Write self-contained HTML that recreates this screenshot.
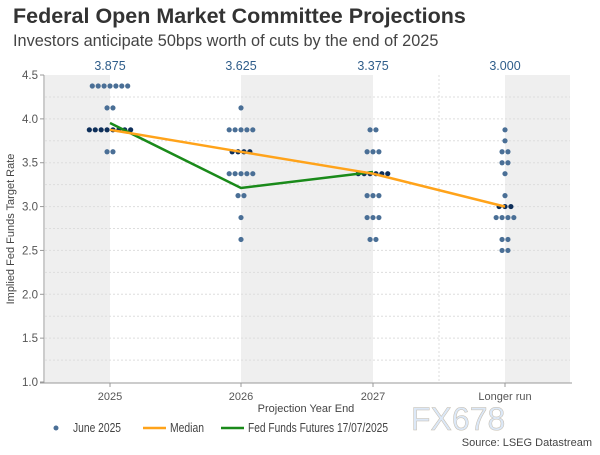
<!DOCTYPE html>
<html><head><meta charset="utf-8"><style>
body{margin:0;background:#fff;width:600px;height:450px;overflow:hidden;font-family:"Liberation Sans",sans-serif}
</style></head><body>
<svg id="s" width="600" height="450" xmlns="http://www.w3.org/2000/svg" font-family="Liberation Sans, sans-serif">
<rect width="600" height="450" fill="#fff"/>
<text x="13" y="23" font-size="21.5" font-weight="bold" fill="#333">Federal Open Market Committee Projections</text>
<text x="13" y="46" font-size="16.3" fill="#444">Investors anticipate 50bps worth of cuts by the end of 2025</text>
<rect x="45" y="75" width="65" height="308" fill="#efefef"/>
<rect x="241" y="75" width="132" height="308" fill="#efefef"/>
<rect x="505" y="75" width="65" height="308" fill="#efefef"/>
<g id="grid" stroke="#ddd" stroke-dasharray="2,2" stroke-width="1"></g>
<line x1="439" y1="75" x2="439" y2="383" stroke="#ddd" stroke-dasharray="2,2"/>
<line x1="44" y1="75" x2="44" y2="383" stroke="#999"/>
<line x1="40" y1="383" x2="572" y2="383" stroke="#999"/>
<g id="ticks" stroke="#999"></g>
<g font-size="11.5" fill="#555" text-anchor="end" id="ylab"></g>
<text transform="translate(14,229) rotate(-90)" font-size="11" fill="#444" text-anchor="middle">Implied Fed Funds Target Rate</text>
<g font-size="11" fill="#555" text-anchor="middle">
<text x="110" y="400">2025</text><text x="241" y="400">2026</text><text x="373" y="400">2027</text><text x="505" y="400">Longer run</text>
<text x="306" y="412" fill="#444">Projection Year End</text>
</g>
<g font-size="12.5" fill="#2f5d8a" text-anchor="middle">
<text x="110" y="70">3.875</text><text x="241" y="70">3.625</text><text x="373" y="70">3.375</text><text x="505" y="70">3.000</text>
</g>
<g id="dots"></g>
<polyline points="110,123 241,188 373,172" fill="none" stroke="#1a8a1a" stroke-width="2.5"/>
<polyline points="110,129.8 241,151.8 373,173.7 505,206.6" fill="none" stroke="#ffa31a" stroke-width="2.5"/>
<g font-size="12.5" fill="#444">
<circle cx="56" cy="428" r="2.5" fill="#4a6f96"/><text x="73" y="432" textLength="48" lengthAdjust="spacingAndGlyphs">June 2025</text>
<line x1="143" y1="428" x2="166" y2="428" stroke="#ffa31a" stroke-width="2.5"/><text x="170" y="432" textLength="34" lengthAdjust="spacingAndGlyphs">Median</text>
<line x1="221" y1="428" x2="244" y2="428" stroke="#1a8a1a" stroke-width="2.5"/><text x="248" y="432" textLength="140" lengthAdjust="spacingAndGlyphs">Fed Funds Futures 17/07/2025</text>
</g>
<text x="411" y="430" font-size="32" fill="#dce8f7" stroke="#c4bcae" stroke-width="0.5">FX678</text>
<text x="592" y="446" font-size="11" fill="#444" text-anchor="end">Source: LSEG Datastream</text>
</svg>
<script>
var ns="http://www.w3.org/2000/svg";
function y(v){return 382-(v-1)*87.71;}
function el(p,t,a){var e=document.createElementNS(ns,t);for(var k in a)e.setAttribute(k,a[k]);document.getElementById(p).appendChild(e);return e;}
for(var v=1.25;v<4.5;v+=0.25){el("grid","line",{x1:45,x2:570,y1:y(v),y2:y(v)});}
for(var v=1;v<=4.51;v+=0.5){el("ticks","line",{x1:40,x2:44,y1:y(v),y2:y(v)});var t=el("ylab","text",{x:38,y:y(v)+4});t.textContent=v.toFixed(1);}
[110,241,373,505].forEach(function(x){el("ticks","line",{x1:x,x2:x,y1:383,y2:387});});
var data=[[110,[[4.375,7],[4.125,2],[3.875,8,1],[3.625,2]]],
[241,[[4.125,1],[3.875,5],[3.625,4,1],[3.375,5],[3.125,2],[2.875,1],[2.625,1]]],
[373,[[3.875,2],[3.625,3],[3.375,6,1],[3.125,3],[2.875,3],[2.625,2]]],
[505,[[3.875,1],[3.75,1],[3.625,2],[3.5,2],[3.375,1],[3.125,1],[3.0,3,1],[2.875,4],[2.625,2],[2.5,2]]]];
data.forEach(function(c){c[1].forEach(function(r){for(var i=0;i<r[1];i++){el("dots","circle",{cx:c[0]+(i-(r[1]-1)/2)*5.9,cy:y(r[0]),r:2.6,fill:r[2]?"#0e2f5a":"#4a6f96"});}});});
</script>
</body></html>
